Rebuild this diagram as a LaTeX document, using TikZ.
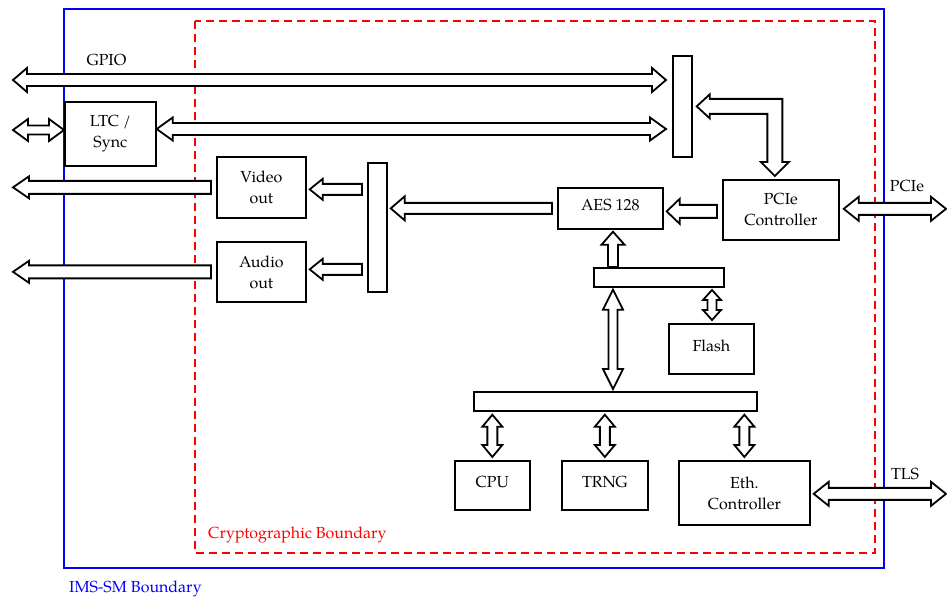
\documentclass[tikz,border=0pt]{standalone}
\usepackage{fontspec}
\setmainfont{TeX Gyre Pagella}
\usetikzlibrary{calc}
\newcommand{\fs}{\fontsize{16}{21}\selectfont}
% horizontal double arrow: left tip, right tip, shaft half, head half, head length
\newcommand{\DblH}[5]{\draw[blk] let \p1=(#1), \p2=(#2) in
 (\x1,\y1) -- (\x1+#5pt,\y1+#4pt) -- (\x1+#5pt,\y1+#3pt) -- (\x2-#5pt,\y1+#3pt) -- (\x2-#5pt,\y1+#4pt) -- (\x2,\y1)
 -- (\x2-#5pt,\y1-#4pt) -- (\x2-#5pt,\y1-#3pt) -- (\x1+#5pt,\y1-#3pt) -- (\x1+#5pt,\y1-#4pt) -- cycle;}
% left-pointing single arrow: tip, tail
\newcommand{\SglL}[5]{\draw[blk] let \p1=(#1), \p2=(#2) in
 (\x1,\y1) -- (\x1+#5pt,\y1+#4pt) -- (\x1+#5pt,\y1+#3pt) -- (\x2,\y1+#3pt) -- (\x2,\y1-#3pt) -- (\x1+#5pt,\y1-#3pt) -- (\x1+#5pt,\y1-#4pt) -- cycle;}
% vertical double arrow: top tip, bottom tip
\newcommand{\DblV}[5]{\draw[blk] let \p1=(#1), \p2=(#2) in
 (\x1,\y1) -- (\x1+#4pt,\y1-#5pt) -- (\x1+#3pt,\y1-#5pt) -- (\x1+#3pt,\y2+#5pt) -- (\x1+#4pt,\y2+#5pt) -- (\x1,\y2)
 -- (\x1-#4pt,\y2+#5pt) -- (\x1-#3pt,\y2+#5pt) -- (\x1-#3pt,\y1-#5pt) -- (\x1-#4pt,\y1-#5pt) -- cycle;}
% upward single arrow: tip (top), tail (bottom)
\newcommand{\SglU}[5]{\draw[blk] let \p1=(#1), \p2=(#2) in
 (\x1,\y1) -- (\x1+#4pt,\y1-#5pt) -- (\x1+#3pt,\y1-#5pt) -- (\x1+#3pt,\y2) -- (\x1-#3pt,\y2) -- (\x1-#3pt,\y1-#5pt) -- (\x1-#4pt,\y1-#5pt) -- cycle;}
\begin{document}
\begin{tikzpicture}[x=1pt,y=-1pt,
 box/.style={draw, line width=1.7pt, fill=white, align=center, inner sep=0pt, anchor=north west, font=\fs},
 onebox/.style={box, text height=10pt, text depth=5pt},
 busbar/.style={draw, line width=1.7pt, fill=white, inner sep=0pt, anchor=north west},
 blk/.style={draw, line width=1.8pt, fill=white, line join=miter},
 lbl/.style={font=\fs, inner sep=0pt, anchor=base}]
\useasboundingbox (0,0) rectangle (947,600);
% boundaries
\draw[blue, line width=2.5pt] (64,9) rectangle (884,568);
\draw[red, line width=1.8pt, dash pattern=on 8pt off 5pt] (195,21) rectangle (875,553);
\node[lbl, anchor=base west, text=red] (cbl) at (208,538) {Cryptographic Boundary};
\node[lbl, anchor=base west, text=blue] (ibl) at (69,592.5) {IMS-SM Boundary};
% boxes
\node[box, minimum width=91pt, minimum height=64pt] (ltc) at (64,101) {LTC /\\Sync};
\node[box, minimum width=89pt, minimum height=61pt] (vid) at (216,156) {Video\\out};
\node[box, minimum width=89pt, minimum height=60pt] (aud) at (216,241) {Audio\\out};
\node[onebox, minimum width=105pt, minimum height=41pt] (aes) at (557,187) {AES 128};
\node[box, minimum width=116pt, minimum height=60pt] (pcie) at (722,179) {PCIe\\Controller};
\node[onebox, minimum width=85pt, minimum height=50pt] (flash) at (668,323) {Flash};
\node[onebox, minimum width=75pt, minimum height=49pt] (cpu) at (454,460) {CPU};
\node[onebox, minimum width=86pt, minimum height=49pt] (trng) at (561,460) {TRNG};
\node[box, minimum width=131pt, minimum height=64pt] (eth) at (678,460) {Eth.\\Controller};
% bus bars
\node[busbar, minimum width=19pt, minimum height=101pt] (barA) at (672,55) {};
\node[busbar, minimum width=19pt, minimum height=129pt] (barB) at (367,162) {};
\node[busbar, minimum width=130pt, minimum height=19pt] (barC) at (593,267) {};
\node[busbar, minimum width=283pt, minimum height=19pt] (barD) at (473,391) {};
% free ends
\coordinate (gpioL) at (13,80);
\coordinate (gpioR) at (666,80);
\coordinate (ltcL) at (13,130);
\coordinate (ltcR) at (666,129);
\coordinate (outL) at (13,0);
\coordinate (pcieR) at (946,208);
\coordinate (tlsR) at (946,493);
% labels
\node[lbl] (gpiol) at (106.5,65.5) {GPIO};
\node[lbl] (pciel) at (907,191.5) {PCIe};
\node[lbl] (tlsl) at (905,479) {TLS};
% arrows on the left
\DblH{gpioL}{gpioR}{6}{12}{14}
\DblH{ltcL}{ltcL -| ltc.west}{4.5}{11}{15}
\DblH{ltcR -| ltc.east}{ltcR}{6}{11.5}{16}
\SglL{outL |- vid.west}{$(vid.west)+(-5,-2)$}{6.5}{11}{16}
\SglL{outL |- aud.west}{$(aud.west)+(-5,-1)$}{6.5}{11}{16}
% bus bar B to video/audio
\SglL{$(vid.east)+(3,2)$}{$(vid.east -| barB.west)+(-5,2)$}{5.5}{10.5}{13}
\SglL{$(aud.east)+(3,-2.5)$}{$(aud.east -| barB.west)+(-5,-2.5)$}{5.5}{10.5}{13}
% AES to bar B, PCIe to AES
\SglL{$(barB.east |- aes.west)+(3,0)$}{$(aes.west)+(-5,0)$}{5.5}{12}{14}
\SglL{$(aes.east)+(3,3)$}{$(pcie.west |- aes.east)+(-5,3)$}{6.5}{12.5}{13}
% bent arrow bar A <-> PCIe
\draw[blk] let \p1=($(barA.east)+(4,0)$), \p2=($(pcie.north)+(-6,-3)$) in
 (\x1,\y1) -- (\x1+13pt,\y1+12pt) -- (\x1+13pt,\y1+7.5pt) -- (\x2+7.5pt,\y1+7.5pt) -- (\x2+7.5pt,\y2+14pt)
 -- (\x2+14pt,\y2+14pt) -- (\x2,\y2) -- (\x2-14pt,\y2+14pt) -- (\x2-7.5pt,\y2+14pt) -- (\x2-7.5pt,\y1-7.5pt)
 -- (\x1+13pt,\y1-7.5pt) -- (\x1+13pt,\y1-12pt) -- cycle;
% external arrows right
\DblH{$(pcie.east)+(4,-1)$}{pcieR}{6}{12}{15}
\DblH{$(eth.east)+(3,1)$}{tlsR}{6}{12}{15}
% AES bus
\coordinate (bigx) at (613,0);
\SglU{$(bigx |- aes.south)+(0,2)$}{bigx |- barC.north}{5}{11.5}{13}
\DblV{$(bigx |- barC.south)+(0,2)$}{$(bigx |- barD.north)+(0,-2)$}{4.5}{10}{20}
\DblV{$(flash.north -| 712,0)+(0,-33)$}{$(flash.north -| 712,0)+(0,-3)$}{4.5}{9}{10}
% bottom bus
\DblV{$(barD.south -| cpu.center)+(0,3)$}{$(cpu.north)+(0,-3)$}{5}{10}{12}
\DblV{$(barD.south -| trng.center)+(0,3)$}{$(trng.north)+(0,-3)$}{5}{10}{12}
\DblV{$(barD.south -| eth.center)+(0,3)$}{$(eth.north)+(0,-3)$}{5}{10}{12}
\end{tikzpicture}
\end{document}
